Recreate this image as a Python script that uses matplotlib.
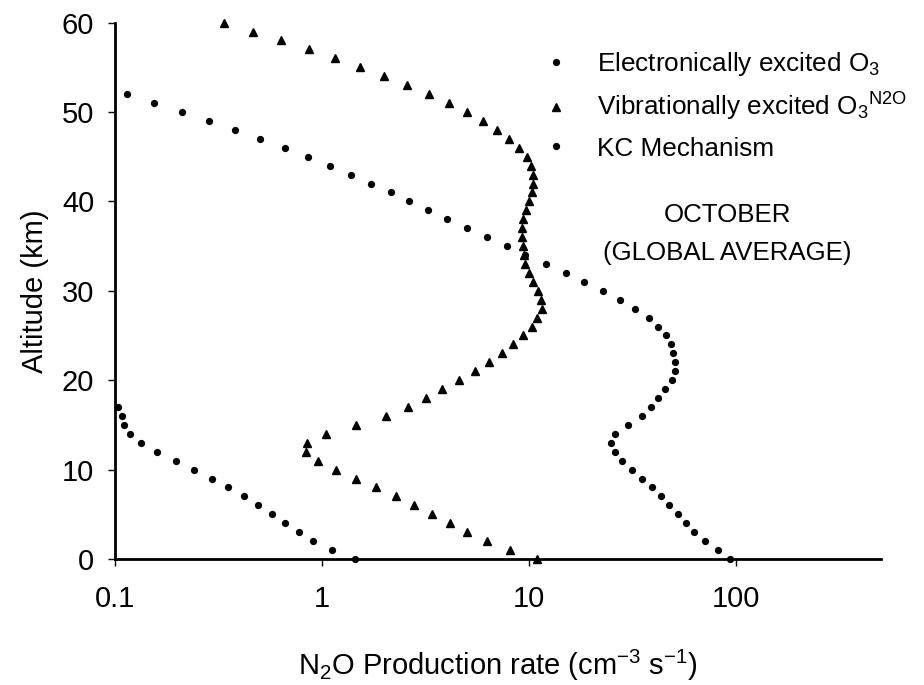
import matplotlib
matplotlib.use("Agg")
import matplotlib.pyplot as plt
from matplotlib.lines import Line2D
from matplotlib.ticker import FixedLocator, FixedFormatter, NullLocator

plt.rcParams["font.family"] = ["Liberation Sans", "DejaVu Sans"]
plt.rcParams["mathtext.fontset"] = "custom"
plt.rcParams["mathtext.rm"] = "Liberation Sans"
plt.rcParams["mathtext.it"] = "Liberation Sans"

# altitude grids (km)
alt_elec = list(range(0, 53))
alt_vib = list(range(0, 61))
alt_kc = list(range(0, 18))

# N2O production rate (cm-3 s-1)
elec = [94.0, 82.0, 70.9, 63.1, 57.4, 52.5, 47.8, 43.5, 39.3, 35.4,
        31.6, 28.4, 26.0, 24.9, 26.0, 30.2, 35.3, 38.9, 42.3, 45.5,
        49.2, 50.8, 50.8, 50.1, 48.6, 46.0, 42.1, 38.0, 32.8, 27.6,
        22.8, 18.6, 15.1, 12.1, 9.64, 7.83, 6.29, 5.01, 4.04, 3.27,
        2.65, 2.15, 1.735, 1.388, 1.098, 0.855, 0.660, 0.503, 0.380, 0.285,
        0.2105, 0.155, 0.114]
vib = [10.94, 8.13, 6.31, 5.04, 4.15, 3.40, 2.79, 2.28, 1.83, 1.46,
       1.17, 0.953, 0.837, 0.843, 1.045, 1.462, 2.04, 2.61, 3.18, 3.80,
       4.60, 5.50, 6.41, 7.43, 8.40, 9.36, 10.42, 10.98, 11.57, 11.49,
       11.07, 10.54, 10.05, 9.64, 9.46, 9.36, 9.32, 9.32, 9.42, 9.68,
       10.05, 10.35, 10.54, 10.54, 10.27, 9.79, 9.01, 8.06, 7.05, 6.03,
       5.01, 4.10, 3.28, 2.57, 2.00, 1.53, 1.156, 0.862, 0.638, 0.463,
       0.335]
kc = [1.445, 1.114, 0.904, 0.773, 0.665, 0.575, 0.493, 0.421, 0.352, 0.293,
      0.241, 0.197, 0.160, 0.134, 0.118, 0.111, 0.1085, 0.1037]

x_ticks = [0.1, 1, 10, 100]
x_tick_labels = ["0.1", "1", "10", "100"]
y_ticks = [0, 10, 20, 30, 40, 50, 60]

labels = ["Electronically excited O$_3$",
          "Vibrationally excited O$_3{}^{\\mathrm{N2O}}$",
          "KC Mechanism"]

fig = plt.figure(figsize=(9.24, 6.85), dpi=100)
ax = fig.add_axes([0.1245, 0.184, 0.8295, 0.783])

ax.plot(elec, alt_elec, linestyle="none", marker="o", ms=4.2, color="black",
        clip_on=False, zorder=5)
ax.plot(vib, alt_vib, linestyle="none", marker="^", ms=5.5, color="black",
        clip_on=False, zorder=5)
ax.plot(kc, alt_kc, linestyle="none", marker="o", ms=4.2, color="black",
        clip_on=False, zorder=5)

ax.set_xscale("log")
ax.set_xlim(0.1, 508)
ax.set_ylim(0, 60)
ax.xaxis.set_major_locator(FixedLocator(x_ticks))
ax.xaxis.set_major_formatter(FixedFormatter(x_tick_labels))
ax.xaxis.set_minor_locator(NullLocator())
ax.set_yticks(y_ticks)

for side in ["top", "right"]:
    ax.spines[side].set_visible(False)
for side in ["left", "bottom"]:
    ax.spines[side].set_linewidth(2.0)

ax.tick_params(axis="x", direction="out", length=5, width=1.0,
               labelsize=21, pad=14)
ax.tick_params(axis="y", direction="out", length=5, width=1.0,
               labelsize=21, pad=10)

ax.set_xlabel("N$_2$O Production rate (cm$^{-3}$ s$^{-1}$)", fontsize=21,
              labelpad=25)
ax.set_ylabel("Altitude (km)", fontsize=21, labelpad=9)

handles = [Line2D([], [], linestyle="none", marker="o", ms=4.2, color="black"),
           Line2D([], [], linestyle="none", marker="^", ms=5.5, color="black"),
           Line2D([], [], linestyle="none", marker="o", ms=4.2, color="black")]
ax.legend(handles, labels, loc="upper left", bbox_to_anchor=(0.545, 0.968),
          frameon=False, fontsize=18.8, handlelength=1.0, handletextpad=1.05,
          labelspacing=0.5, borderaxespad=0)

ax.text(0.799, 0.606, "OCTOBER\n(GLOBAL AVERAGE)", transform=ax.transAxes,
        ha="center", va="center", fontsize=18.6, linespacing=1.75)

fig.savefig("out.png", dpi=100)
